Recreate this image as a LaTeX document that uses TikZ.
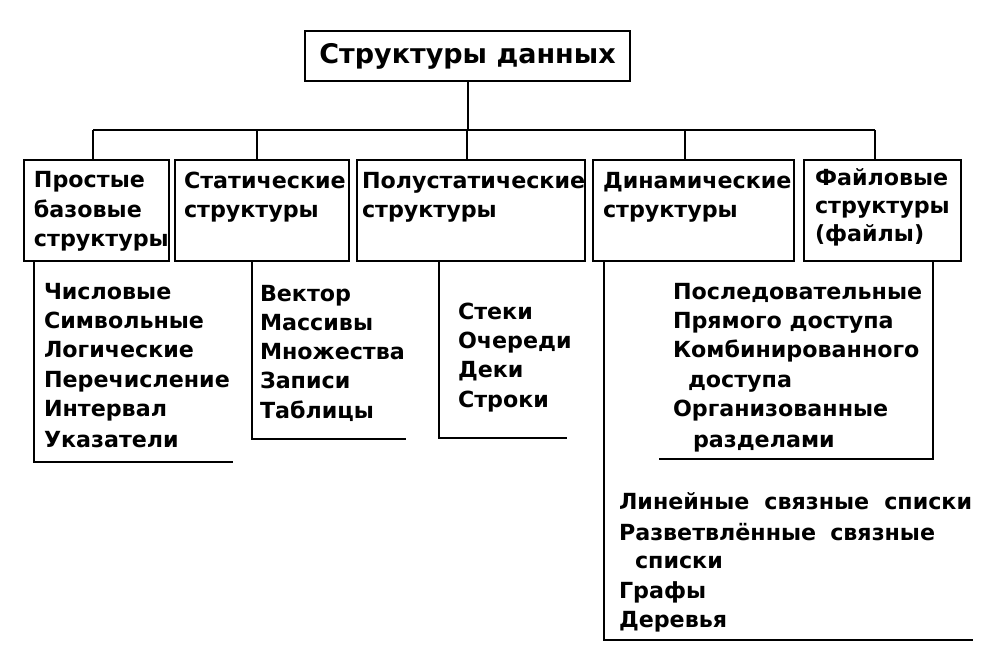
\documentclass[tikz,border=0pt]{standalone}
\usepackage{fontspec}
\setmainfont{DejaVu Sans}
\begin{document}
\begin{tikzpicture}[x=1pt,y=-1pt,line width=2pt,
  box/.style={draw, inner sep=0pt, anchor=north west},
  lbl/.style={anchor=base west, inner sep=0pt, font=\fontsize{22.2}{26}\selectfont\bfseries},
  toplbl/.style={font=\fontsize{27}{30}\selectfont\bfseries}]
\useasboundingbox[fill=white] (0,0) rectangle (986,652);
% top box
\node[box, toplbl, minimum width=325pt, minimum height=50pt] (top) at (304,30) {Структуры данных};
% level-2 boxes
\node[box, minimum width=145pt, minimum height=101pt] (b1) at (23,159) {};
\node[box, minimum width=174pt, minimum height=101pt] (b2) at (174,159) {};
\node[box, minimum width=228pt, minimum height=101pt] (b3) at (356,159) {};
\node[box, minimum width=201pt, minimum height=101pt] (b4) at (592,159) {};
\node[box, minimum width=157pt, minimum height=101pt] (b5) at (803,159) {};
% bus
\coordinate (bus1) at (93,130);
\coordinate (bus2) at (257,130);
\coordinate (bus3) at (467,130);
\coordinate (bus4) at (685,130);
\coordinate (bus5) at (875,130);
\draw (top.south) -- (top.south |- bus1);
\draw (bus1) -- (bus5);
\draw (bus1) -- (b1.north -| bus1);
\draw (bus2) -- (b2.north -| bus2);
\draw (bus3) -- (b3.north -| bus3);
\draw (bus4) -- (b4.north -| bus4);
\draw (bus5) -- (b5.north -| bus5);
% box texts
\node[lbl] (b1a) at (33,188) {Простые};
\node[lbl] (b1b) at (33,218) {базовые};
\node[lbl] (b1c) at (33,247) {структуры};
\node[lbl] (b2a) at (183,189) {Статические};
\node[lbl] (b2b) at (183,218) {структуры};
\node[lbl] (b3a) at (361,189) {Полустатические};
\node[lbl] (b3b) at (361,218) {структуры};
\node[lbl] (b4a) at (602,189) {Динамические};
\node[lbl] (b4b) at (602,218) {структуры};
\node[lbl] (b5a) at (814,186) {Файловые};
\node[lbl] (b5b) at (814,214) {структуры};
\node[lbl] (b5c) at (814,242) {(файлы)};
% list brackets
\coordinate (c1) at (34,462); \coordinate (e1) at (233,462);
\coordinate (c2) at (252,439); \coordinate (e2) at (406,439);
\coordinate (c3) at (439,438); \coordinate (e3) at (567,438);
\coordinate (c4) at (933,459); \coordinate (e4) at (659,459);
\coordinate (c5) at (604,640); \coordinate (e5) at (973,640);
\draw (b1.south -| c1) -- (c1) -- (e1);
\draw (b2.south -| c2) -- (c2) -- (e2);
\draw (b3.south -| c3) -- (c3) -- (e3);
\draw (b5.south -| c4) -- (c4) -- (e4);
\draw (b4.south -| c5) -- (c5) -- (e5);
% list 1
\node[lbl] (l1a) at (43,300) {Числовые};
\node[lbl] (l1b) at (43,329) {Символьные};
\node[lbl] (l1c) at (43,358) {Логические};
\node[lbl] (l1d) at (43,388) {Перечисление};
\node[lbl] (l1e) at (43,417) {Интервал};
\node[lbl] (l1f) at (43,447) {Указатели};
% list 2
\node[lbl] (l2a) at (259,302) {Вектор};
\node[lbl] (l2b) at (259,331) {Массивы};
\node[lbl] (l2c) at (259,360) {Множества};
\node[lbl] (l2d) at (259,389) {Записи};
\node[lbl] (l2e) at (259,418) {Таблицы};
% list 3
\node[lbl] (l3a) at (457,320) {Стеки};
\node[lbl] (l3b) at (457,349) {Очереди};
\node[lbl] (l3c) at (457,378) {Деки};
\node[lbl] (l3d) at (457,408) {Строки};
% list 4
\node[lbl] (l4a) at (672,300) {Последовательные};
\node[lbl] (l4b) at (672,329) {Прямого доступа};
\node[lbl] (l4c) at (672,358) {Комбинированного};
\node[lbl] (l4d) at (687,388) {доступа};
\node[lbl] (l4e) at (672,417) {Организованные};
\node[lbl] (l4f) at (692,447) {разделами};
% list 5
\node[lbl] (l5a) at (618,509) {Линейные\hspace{15pt}связные\hspace{15pt}списки};
\node[lbl] (l5b) at (618,540) {Разветвлённые\hspace{14pt}связные};
\node[lbl] (l5c) at (634,568) {списки};
\node[lbl] (l5d) at (618,598) {Графы};
\node[lbl] (l5e) at (618,627) {Деревья};
\end{tikzpicture}
\end{document}
